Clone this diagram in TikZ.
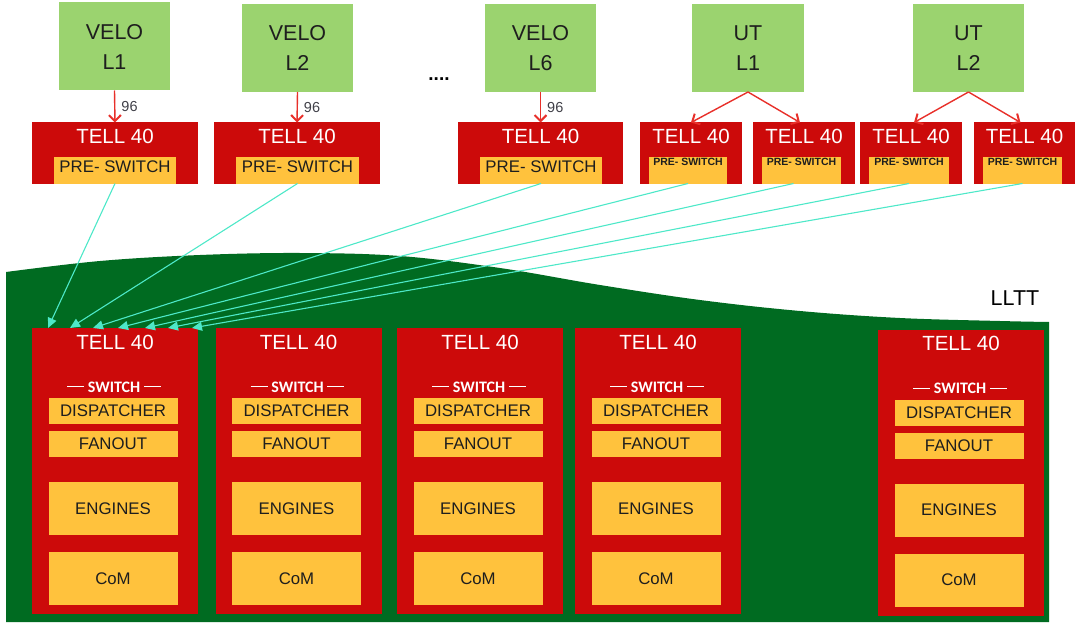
\documentclass[tikz,border=0pt]{standalone}
\usepackage{fontspec}
\setmainfont{Liberation Sans}
\newfontfamily\calib{Carlito}
\usetikzlibrary{arrows.meta}
\definecolor{redc}{HTML}{CC0A0A}
\definecolor{yelc}{HTML}{FFC23D}
\definecolor{lgreen}{HTML}{9BD36F}
\definecolor{dgreen}{HTML}{006B21}
\definecolor{cyanc}{HTML}{4DE8C8}
\definecolor{arrred}{HTML}{E8302A}
\definecolor{txtc}{HTML}{1E1E1E}
\definecolor{numc}{HTML}{404048}
\newcommand\fsz[1]{\fontsize{#1}{#1}\selectfont}
\newcommand\swdash{\rule[0.32em]{17pt}{0.7pt}}
\tikzset{
  redbox/.style={fill=redc, draw=none, inner sep=0pt, outer sep=0pt},
  yelbox/.style={fill=yelc, draw=none, inner sep=0pt, outer sep=0pt, text=txtc, font=\fsz{16.8}},
  grnbox/.style={fill=lgreen, draw=none, inner sep=0pt, outer sep=0pt, text=txtc, align=center,
                 minimum height=88pt, font=\fontsize{21.5}{30}\selectfont},
  ttl/.style={text=white, font=\fsz{20.5}, inner sep=0pt},
  pretxt/.style={text=txtc, font=\fsz{16.8}, inner sep=0pt},
  smallpre/.style={text=txtc, font=\bfseries\fsz{10.5}, inner sep=0pt},
  swtxt/.style={text=white, font=\calib\bfseries\fsz{16}, inner sep=0pt},
  redarr/.style={draw=arrred, line width=1.4pt, -{Straight Barb[length=6pt,width=12pt,line width=2pt]}},
  cyarr/.style={draw=cyanc, line width=1.1pt, -{Triangle[length=10pt,width=9pt]}},
  num/.style={text=numc, font=\fsz{14.5}, inner sep=0pt, anchor=west, xshift=6pt},
}
% bottom TELL 40 box: name, centre x, top y
\newcommand\lltbox[3]{%
  \node[redbox, minimum width=166pt, minimum height=286pt, anchor=north] (#1) at (#2,#3) {};
  \node[ttl] (#1t) at (#2,#3+14) {TELL 40};
  \node[swtxt] (#1s) at (#2-1,#3+59) {\swdash\ SWITCH \swdash};
  \node[yelbox, minimum width=129pt, minimum height=26pt] (#1d) at (#2-2,#3+83) {DISPATCHER};
  \node[yelbox, minimum width=129pt, minimum height=26pt] (#1f) at (#2-2,#3+116) {FANOUT};
  \node[yelbox, minimum width=129pt, minimum height=53pt] (#1e) at (#2-2,#3+180.5) {ENGINES};
  \node[yelbox, minimum width=129pt, minimum height=53pt] (#1c) at (#2-2,#3+250.5) {CoM};
}
\begin{document}
\begin{tikzpicture}[x=1pt,y=-1pt]
\useasboundingbox (0,0) rectangle (1076,623);
% green LLTT region
\fill[dgreen] plot[smooth, tension=0.6] coordinates {(6,272) (100,261) (200,255) (300,253) (400,256) (500,268) (600,285) (700,300) (800,311) (900,318) (1000,321) (1049,322)}
  -- (1049,622) -- (6,622) -- cycle;
\node[text=black, font=\fsz{21.5}, inner sep=0pt] (lltt) at (1015,298) {LLTT};
% bottom boxes
\lltbox{B1}{115}{328}
\lltbox{B2}{298.5}{328}
\lltbox{B3}{480}{328}
\lltbox{B4}{658}{328}
\lltbox{B5}{961}{329.5}
% top green boxes
\node[grnbox, minimum width=111pt] (G1) at (114.5,46.5) {VELO\\L1};
\node[grnbox, minimum width=111pt] (G2) at (297.5,48) {VELO\\L2};
\node[grnbox, minimum width=111pt] (G6) at (540.5,48) {VELO\\L6};
\node[grnbox, minimum width=112pt] (GU1) at (748,48) {UT\\L1};
\node[grnbox, minimum width=111pt] (GU2) at (968.5,48) {UT\\L2};
\node[text=black, font=\bfseries\fsz{19}, inner sep=0pt, anchor=base] (dots) at (439,81) {....};
% top TELL 40 boxes
\node[redbox, minimum width=166pt, minimum height=61pt] (T1) at (115,153) {};
\node[redbox, minimum width=166pt, minimum height=61pt] (T2) at (297,153) {};
\node[redbox, minimum width=165pt, minimum height=61pt] (T6) at (540.5,153) {};
\node[redbox, minimum width=102pt, minimum height=61pt] (Ua) at (691,153) {};
\node[redbox, minimum width=102pt, minimum height=61pt] (Ub) at (804,153) {};
\node[redbox, minimum width=102pt, minimum height=61pt] (Va) at (911,153) {};
\node[redbox, minimum width=101pt, minimum height=61pt] (Vb) at (1024.5,153) {};
\foreach \n/\x in {T1/115,T2/297,T6/540.5,Ua/691,Ub/804,Va/911,Vb/1024.5}
  \node[ttl] (\n t) at (\x,136) {TELL 40};
% pre-switch boxes
\node[yelbox, minimum width=122pt, minimum height=27pt] (P1) at (115,170) {};
\node[yelbox, minimum width=123pt, minimum height=27pt] (P2) at (297.5,170) {};
\node[yelbox, minimum width=122pt, minimum height=27pt] (P6) at (541,170) {};
\node[yelbox, minimum width=78pt, minimum height=27pt] (Pa) at (688,170) {};
\node[yelbox, minimum width=79pt, minimum height=27pt] (Pb) at (801.5,170) {};
\node[yelbox, minimum width=80pt, minimum height=27pt] (Pc) at (909,170) {};
\node[yelbox, minimum width=79pt, minimum height=27pt] (Pd) at (1022.5,170) {};
\foreach \n/\x in {P1/115,P2/297.5,P6/541}
  \node[pretxt] (\n t) at (\x,167) {PRE- SWITCH};
\foreach \n/\x in {Pa/688,Pb/801.5,Pc/909,Pd/1022.5}
  \node[smallpre] (\n t) at (\x,162) {PRE- SWITCH};
% red arrows
\draw[redarr] (G1.south) -- node[num]{96} (T1.north);
\draw[redarr] (G2.south) -- node[num]{96} (T2.north);
\draw[redarr] (G6.south) -- node[num]{96} (T6.north);
\draw[redarr] (GU1.south) -- (Ua.north);
\draw[redarr] ([xshift=0pt]GU1.south) -- ([xshift=-4pt]Ub.north);
\draw[redarr] (GU2.south) -- ([xshift=3pt]Va.north);
\draw[redarr] (GU2.south) -- ([xshift=-4pt]Vb.north);
% cyan arrows into first LLTT TELL 40
\coordinate (e1) at ([xshift=16pt]B1.north west);
\coordinate (e2) at ([xshift=38pt]B1.north west);
\coordinate (e3) at ([xshift=61pt]B1.north west);
\coordinate (e4) at ([xshift=86pt]B1.north west);
\coordinate (e5) at ([xshift=113pt]B1.north west);
\coordinate (e6) at ([xshift=136pt]B1.north west);
\coordinate (e7) at ([xshift=160pt]B1.north west);
\draw[cyarr] (P1.south) -- (e1);
\draw[cyarr] (P2.south) -- (e2);
\draw[cyarr] (P6.south) -- (e3);
\draw[cyarr] (Pa.south) -- (e4);
\draw[cyarr] ([xshift=-8pt]Pb.south) -- (e5);
\draw[cyarr] (Pc.south) -- (e6);
\draw[cyarr] (Pd.south) -- (e7);
\end{tikzpicture}
\end{document}
